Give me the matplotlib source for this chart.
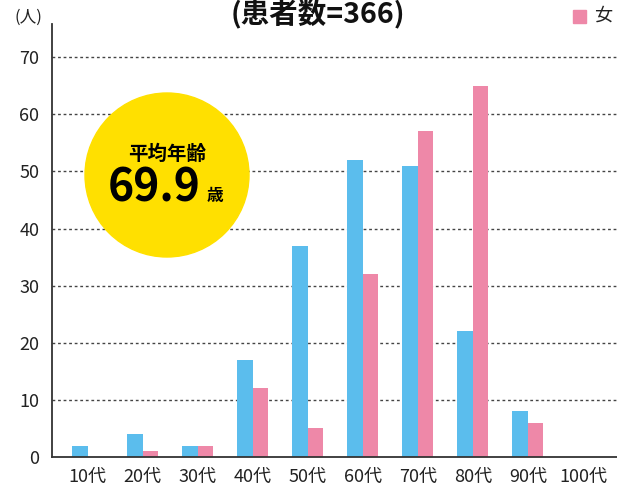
import numpy as np
import matplotlib.pyplot as plt
from matplotlib.patches import Ellipse, Rectangle

plt.rcParams['font.family'] = ['Noto Sans CJK JP', 'DejaVu Sans']

# age groups and counts
ages = ['10代', '20代', '30代', '40代', '50代', '60代', '70代', '80代', '90代', '100代']
male = [2, 4, 2, 17, 37, 52, 51, 22, 8, 0]
female = [0, 1, 2, 12, 5, 32, 57, 65, 6, 0]
y_ticks = [0, 10, 20, 30, 40, 50, 60, 70]

blue = '#5BBDED'
pink = '#EE88A8'
W, H = 617, 490

fig = plt.figure(figsize=(W / 100, H / 100), dpi=100)
ax = fig.add_axes([52 / W, 33 / H, 1 - 52 / W, (457 - 24) / H])

x = np.arange(len(ages))
bw = 0.28
ax.bar(x - bw / 2, male, bw, color=blue, zorder=2)
ax.bar(x + bw / 2, female, bw, color=pink, zorder=2)

ax.set_xlim(-0.65, 9.62)
ax.set_ylim(0, 75.8)
ax.set_xticks(x)
ax.set_xticklabels(ages, fontsize=13, color='#222222')
ax.set_yticks(y_ticks)
ax.set_yticklabels([str(v) for v in y_ticks], fontsize=13, color='#222222')
ax.tick_params(length=0, pad=8)
ax.tick_params(axis='y', pad=9)

for v in y_ticks[1:]:
    ax.axhline(v, color='#444444', lw=1, ls=(0, (2, 2)), zorder=1)

for s in ['top', 'right']:
    ax.spines[s].set_visible(False)
for s in ['left', 'bottom']:
    ax.spines[s].set_color('#333333')
    ax.spines[s].set_linewidth(1.3)

# title, unit and legend
fig.text(318 / W, 1 - 14 / H, '(患者数=366)', fontsize=20.5, fontweight='bold',
         ha='center', va='center', color='#111111')
fig.text(28 / W, 1 - 17 / H, '(人)', fontsize=12, ha='center', va='center', color='#222222')
fig.add_artist(Rectangle((573 / W, 1 - 23 / H), 13 / W, 13 / H,
                         transform=fig.transFigure, color=pink))
fig.text(594 / W, 1 - 16 / H, '女', fontsize=13, ha='left', va='center', color='#222222')

# average age badge
cx, cy, r = 167, 175, 82
fig.add_artist(Ellipse((cx / W, 1 - cy / H), 2 * r / W, 2 * r / H,
                       transform=fig.transFigure, color='#FFE000', zorder=5))
fig.text(cx / W, 1 - 154 / H, '平均年齢', fontsize=14, fontweight='bold',
         ha='center', va='center', zorder=6)
fig.text(154 / W, 1 - 188 / H, '69.9', fontsize=32, fontweight='bold',
         ha='center', va='center', zorder=6)
fig.text(215 / W, 1 - 196 / H, '歳', fontsize=12, fontweight='bold',
         ha='center', va='center', zorder=6)

fig.savefig('out.png', dpi=100)
